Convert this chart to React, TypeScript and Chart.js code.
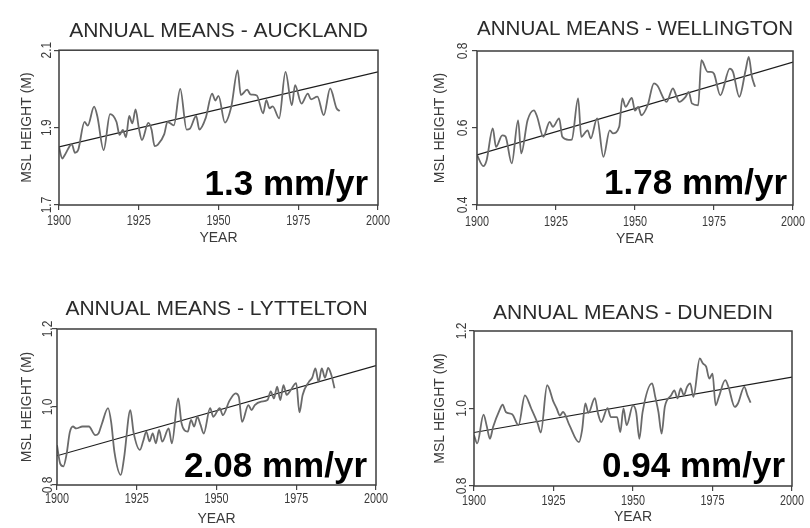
import React, { useEffect, useRef } from "react";
import { Chart, registerables } from "chart.js";

Chart.register(...registerables);

// ---------------- data ----------------
const trendYears = [1900, 2000];

const aucklandYears = [
  1900, 1901, 1902, 1904, 1905, 1906, 1908, 1909, 1911, 1912, 1914, 1916, 1918, 1919, 1920, 1921,
  1922, 1923, 1924, 1925, 1926, 1928, 1929, 1930, 1931, 1933, 1934, 1936, 1938, 1940, 1941, 1943,
  1944, 1946, 1948, 1949, 1950, 1952, 1954, 1956, 1957, 1959, 1960, 1962, 1964, 1965, 1966, 1967,
  1969, 1971, 1973, 1974, 1976, 1978, 1979, 1981, 1983, 1985, 1987, 1988,
];
const aucklandValues = [
  1.85, 1.82, 1.832, 1.857, 1.835, 1.842, 1.915, 1.905, 1.954, 1.93, 1.842, 1.935, 1.915, 1.881, 1.894, 1.875,
  1.93, 1.911, 1.947, 1.9, 1.868, 1.912, 1.895, 1.852, 1.856, 1.883, 1.915, 1.906, 2.0, 1.895, 1.897, 1.93,
  1.895, 1.925, 1.988, 1.97, 1.982, 1.913, 1.954, 2.048, 1.984, 1.998, 1.986, 1.983, 1.937, 1.971, 1.95, 1.955,
  1.924, 2.044, 1.958, 2.01, 1.962, 1.988, 1.973, 1.98, 1.932, 2.001, 1.95, 1.943,
];
const aucklandTrend = [1.85, 2.044];

const wellingtonYears = [
  1900, 1902, 1903, 1905, 1906, 1908, 1909, 1911, 1913, 1914, 1916, 1918, 1919, 1921, 1923, 1924,
  1926, 1927, 1929, 1930, 1932, 1933, 1935, 1936, 1938, 1940, 1942, 1943, 1945, 1946, 1947, 1949,
  1950, 1951, 1952, 1954, 1956, 1957, 1960, 1962, 1963, 1964, 1966, 1967, 1968, 1970, 1971, 1973,
  1974, 1975, 1977, 1980, 1981, 1983, 1985, 1986, 1987, 1988,
];
const wellingtonValues = [
  0.53, 0.501, 0.515, 0.599, 0.551, 0.581, 0.578, 0.508, 0.62, 0.534, 0.62, 0.646, 0.63, 0.577, 0.616, 0.603,
  0.625, 0.577, 0.569, 0.57, 0.677, 0.577, 0.594, 0.573, 0.625, 0.525, 0.594, 0.586, 0.603, 0.677, 0.655, 0.678,
  0.645, 0.655, 0.633, 0.659, 0.716, 0.711, 0.668, 0.703, 0.685, 0.668, 0.681, 0.694, 0.664, 0.659, 0.776, 0.746,
  0.746, 0.741, 0.685, 0.754, 0.746, 0.681, 0.75, 0.785, 0.733, 0.707,
];
const wellingtonTrend = [0.53, 0.771];

const lytteltonYears = [
  1900, 1901, 1902, 1903, 1904, 1905, 1906, 1908, 1910, 1912, 1913, 1914, 1916, 1917, 1918, 1920,
  1921, 1923, 1924, 1926, 1927, 1928, 1929, 1930, 1931, 1932, 1933, 1935, 1936, 1938, 1939, 1940,
  1941, 1942, 1943, 1944, 1945, 1946, 1948, 1949, 1951, 1952, 1954, 1956, 1957, 1958, 1960, 1961,
  1962, 1964, 1966, 1967, 1968, 1969, 1970, 1971, 1972, 1973, 1975, 1976, 1977, 1979, 1980, 1981,
  1982, 1983, 1984, 1985, 1986, 1987,
];
const lytteltonValues = [
  0.902, 0.855, 0.848, 0.879, 0.935, 0.95, 0.945, 0.95, 0.95, 0.928, 0.932, 0.955, 0.997, 0.96, 0.885, 0.826,
  0.868, 0.992, 0.935, 0.89, 0.912, 0.937, 0.912, 0.932, 0.907, 0.941, 0.911, 0.945, 0.907, 1.022, 0.96, 0.94,
  0.937, 0.967, 0.95, 0.975, 0.954, 0.932, 0.997, 0.975, 0.997, 0.979, 1.015, 1.035, 1.026, 0.962, 1.005, 0.992,
  1.005, 1.014, 1.018, 1.04, 1.022, 1.052, 1.018, 1.056, 1.031, 1.04, 1.061, 0.986, 1.031, 1.065, 1.075, 1.099,
  1.065, 1.099, 1.075, 1.1, 1.082, 1.048,
];
const lytteltonTrend = [0.875, 1.106];

const dunedinYears = [
  1900, 1901, 1903, 1904, 1905, 1906, 1908, 1909, 1910, 1912, 1914, 1916, 1918, 1920, 1921, 1923,
  1925, 1926, 1927, 1928, 1930, 1933, 1934, 1935, 1936, 1938, 1939, 1940, 1942, 1943, 1945, 1946,
  1947, 1948, 1950, 1951, 1952, 1953, 1956, 1957, 1958, 1959, 1960, 1962, 1963, 1964, 1965, 1966,
  1967, 1968, 1969, 1971, 1972, 1973, 1974, 1975, 1976, 1977, 1979, 1980, 1982, 1983, 1985, 1986,
  1987,
];
const dunedinValues = [
  0.931, 0.91, 0.984, 0.955, 0.922, 0.952, 0.995, 1.01, 0.991, 0.985, 0.957, 1.034, 1.0, 0.962, 0.938, 1.06,
  1.017, 1.0, 0.982, 0.991, 0.957, 0.913, 0.945, 1.013, 0.989, 1.027, 0.987, 0.965, 1.001, 0.978, 0.978, 0.939,
  1.0, 0.957, 1.008, 0.99, 0.922, 0.99, 1.065, 1.03, 0.991, 0.935, 1.004, 1.034, 1.047, 1.026, 1.052, 1.034,
  1.056, 1.065, 1.03, 1.129, 1.116, 1.108, 1.077, 1.09, 1.008, 1.03, 1.073, 1.056, 1.004, 1.013, 1.056, 1.034,
  1.015,
];
const dunedinTrend = [0.938, 1.081];

const xAxisLabel = "YEAR";
const yAxisLabel = "MSL HEIGHT (M)";

// ---------------- styling / layout ----------------
const SANS = '"Liberation Sans", Arial, Helvetica, sans-serif';
const TICK_COLOR = "#3a3a3a";

type PanelCfg = {
  key: string;
  title: string;
  rate: string;
  years: number[];
  values: number[];
  trend: number[];
  yMin: number;
  yMax: number;
  left: number;
  top: number;
  plotLeft: number;
  padRight: number;
  xHeight: number;
  titleTop: number;
  titleBottom: number;
  yTitlePad: number;
  yearPad: number;
  yLabelOff: number;
  xLabelOff: number;
  rateRight: number;
  rateBottom: number;
};

const panels: PanelCfg[] = [
  {
    key: "auck", title: "ANNUAL MEANS - AUCKLAND", rate: "1.3 mm/yr",
    years: aucklandYears, values: aucklandValues, trend: aucklandTrend, yMin: 1.7, yMax: 2.1,
    left: 0, top: 0, plotLeft: 59, padRight: 27, xHeight: 59,
    titleTop: 19, titleBottom: 6, yTitlePad: 18.6, yearPad: 17.6, yLabelOff: 12, xLabelOff: 16,
    rateRight: 10, rateBottom: 10,
  },
  {
    key: "well", title: "ANNUAL MEANS - WELLINGTON", rate: "1.78 mm/yr",
    years: wellingtonYears, values: wellingtonValues, trend: wellingtonTrend, yMin: 0.4, yMax: 0.8,
    left: 405, top: 0, plotLeft: 72, padRight: 17, xHeight: 59,
    titleTop: 17, titleBottom: 8.8, yTitlePad: 26.6, yearPad: 16.6, yLabelOff: 14, xLabelOff: 17,
    rateRight: 6, rateBottom: 11,
  },
  {
    key: "lytt", title: "ANNUAL MEANS - LYTTELTON", rate: "2.08 mm/yr",
    years: lytteltonYears, values: lytteltonValues, trend: lytteltonTrend, yMin: 0.8, yMax: 1.2,
    left: 0, top: 264, plotLeft: 57, padRight: 29, xHeight: 43,
    titleTop: 32.4, titleBottom: 7.4, yTitlePad: 18.6, yearPad: 0.6, yLabelOff: 9, xLabelOff: 14,
    rateRight: 9, rateBottom: 8,
  },
  {
    key: "dune", title: "ANNUAL MEANS - DUNEDIN", rate: "0.94 mm/yr",
    years: dunedinYears, values: dunedinValues, trend: dunedinTrend, yMin: 0.8, yMax: 1.2,
    left: 405, top: 264, plotLeft: 69, padRight: 18, xHeight: 42,
    titleTop: 36.9, titleBottom: 4.9, yTitlePad: 26.6, yearPad: 2.1, yLabelOff: 12, xLabelOff: 15,
    rateRight: 7, rateBottom: 9,
  },
];

const W = 405;
const H = 264;

function Panel({ cfg }: { cfg: PanelCfg }) {
  const ref = useRef<HTMLCanvasElement | null>(null);

  useEffect(() => {
    if (!ref.current) return;

    const framePlugin = {
      id: "frame",
      afterDatasetsDraw(chart: any) {
        const { ctx, chartArea } = chart;
        ctx.save();
        ctx.strokeStyle = "#3d3d3d";
        ctx.lineWidth = 1.5;
        ctx.strokeRect(chartArea.left, chartArea.top, chartArea.right - chartArea.left, chartArea.bottom - chartArea.top);
        ctx.restore();
      },
    };

    // condensed plotter-style tick labels, placed through the library's scales
    const tickLabelPlugin = {
      id: "tickLabels",
      afterDraw(chart: any) {
        const { ctx, chartArea, scales } = chart;
        ctx.save();
        ctx.fillStyle = TICK_COLOR;
        ctx.font = `15px ${SANS}`;
        ctx.textAlign = "center";
        ctx.textBaseline = "middle";
        const xs = scales.x;
        xs.ticks.forEach((t: any) => {
          const px = xs.getPixelForValue(t.value);
          ctx.save();
          ctx.translate(px, chartArea.bottom + cfg.xLabelOff);
          ctx.scale(0.72, 1);
          ctx.fillText(String(t.value), 0, 0);
          ctx.restore();
        });
        const ys = scales.y;
        ys.ticks.forEach((t: any) => {
          const py = ys.getPixelForValue(t.value);
          ctx.save();
          ctx.translate(chartArea.left - cfg.yLabelOff, py);
          ctx.rotate(-Math.PI / 2);
          ctx.scale(0.8, 1);
          ctx.fillText(Number(t.value).toFixed(1), 0, 0);
          ctx.restore();
        });
        ctx.restore();
      },
    };

    const ratePlugin = {
      id: "rate",
      afterDraw(chart: any) {
        const { ctx, chartArea } = chart;
        ctx.save();
        ctx.font = `bold 35px ${SANS}`;
        ctx.fillStyle = "#000";
        ctx.textAlign = "right";
        ctx.textBaseline = "alphabetic";
        ctx.fillText(cfg.rate, chartArea.right - cfg.rateRight, chartArea.bottom - cfg.rateBottom);
        ctx.restore();
      },
    };

    const chart = new Chart(ref.current, {
      type: "line",
      data: {
        datasets: [
          {
            data: cfg.years.map((x, i) => ({ x, y: cfg.values[i] })),
            borderColor: "#6a6a6a",
            borderWidth: 1.8,
            pointRadius: 0,
            cubicInterpolationMode: "monotone",
            fill: false,
          },
          {
            data: trendYears.map((x, i) => ({ x, y: cfg.trend[i] })),
            borderColor: "#1c1c1c",
            borderWidth: 1.2,
            pointRadius: 0,
            tension: 0,
            fill: false,
          },
        ],
      },
      options: {
        responsive: false,
        animation: false,
        events: [],
        layout: { padding: { left: 0, right: cfg.padRight, top: 0, bottom: 0 } },
        plugins: {
          legend: { display: false },
          tooltip: { enabled: false },
          title: {
            display: true,
            text: cfg.title,
            fullSize: false,
            color: "#2b2b2b",
            font: { family: SANS, size: 21, weight: "normal", lineHeight: 1.2 },
            padding: { top: cfg.titleTop, bottom: cfg.titleBottom },
          },
        },
        scales: {
          x: {
            type: "linear",
            min: 1900,
            max: 2000,
            afterFit: (s: any) => {
              s.height = cfg.xHeight;
            },
            ticks: { stepSize: 25, display: false },
            grid: { drawOnChartArea: false, drawTicks: true, tickLength: 5, color: "#444", lineWidth: 1.2 },
            border: { display: false },
            title: {
              display: true,
              text: xAxisLabel,
              color: TICK_COLOR,
              font: { family: SANS, size: 14 },
              padding: { top: 0, bottom: cfg.yearPad },
            },
          },
          y: {
            type: "linear",
            min: cfg.yMin,
            max: cfg.yMax,
            afterFit: (s: any) => {
              s.width = cfg.plotLeft;
            },
            ticks: { stepSize: 0.2, display: false },
            grid: { drawOnChartArea: false, drawTicks: true, tickLength: 5, color: "#444", lineWidth: 1.2 },
            border: { display: false },
            title: {
              display: true,
              text: yAxisLabel,
              color: TICK_COLOR,
              font: { family: SANS, size: 14 },
              padding: { top: cfg.yTitlePad, bottom: 0 },
            },
          },
        },
      } as any,
      plugins: [framePlugin, tickLabelPlugin, ratePlugin],
    });

    return () => chart.destroy();
  }, [cfg]);

  return (
    <canvas
      ref={ref}
      width={W}
      height={H}
      style={{ position: "absolute", left: cfg.left, top: cfg.top, width: W, height: H }}
    />
  );
}

export default function App() {
  return (
    <div style={{ position: "fixed", left: 0, top: 0, width: 810, height: 528, background: "#fff", overflow: "hidden" }}>
      {panels.map((p) => (
        <Panel key={p.key} cfg={p} />
      ))}
    </div>
  );
}
